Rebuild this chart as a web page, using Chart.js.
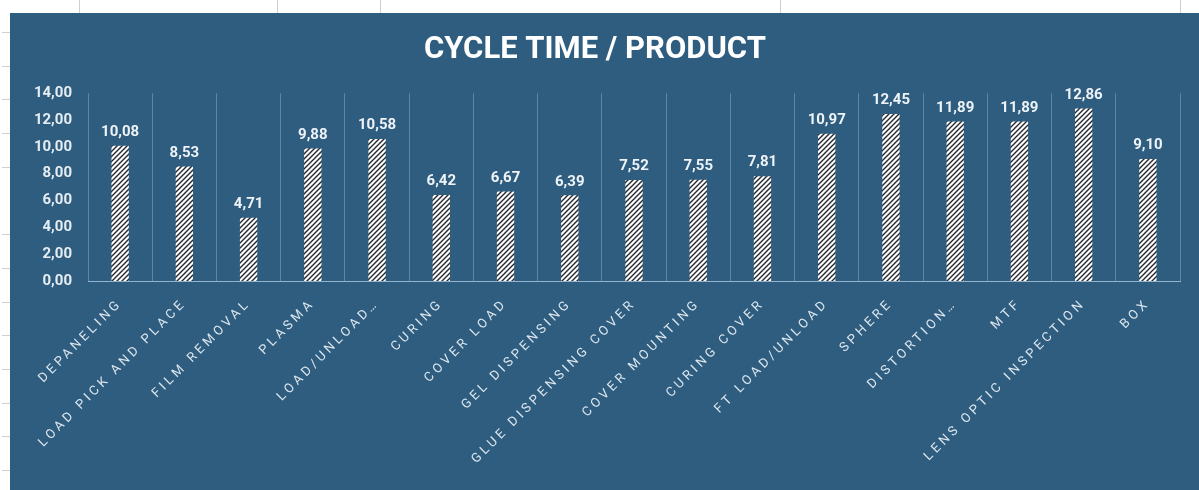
<!DOCTYPE html>
<html>
<head>
<meta charset="utf-8">
<script src="https://cdn.jsdelivr.net/npm/chart.js@4/dist/chart.umd.min.js"></script>
<style>
  html, body { margin: 0; padding: 0; background: #fff; overflow: hidden; }
  .sheet { position: relative; width: 1199px; height: 490px; }
  .cols div { position: absolute; top: 0; width: 1px; height: 13px; background: #cfcfcf; }
  .rows {
    position: absolute; left: 2px; top: 0; width: 8px; height: 490px;
    background: repeating-linear-gradient(to bottom, transparent 0, transparent 32px, #cfcfcf 32px, #cfcfcf 33px, transparent 33px, transparent 33.7px);
  }
  .panel { position: absolute; left: 10px; top: 13px; width: 1189px; height: 477px; background: #2e5d7f; }
</style>
</head>
<body>
<div class="sheet">
  <div class="cols">
    <div style="left:79px"></div><div style="left:277px"></div><div style="left:380px"></div>
    <div style="left:780px"></div><div style="left:1180px"></div>
  </div>
  <div class="rows"></div>
  <div class="panel"><canvas id="cycleChart"></canvas></div>
</div>
<script>
// Cycle time per station
const stations = [
  'DEPANELING', 'LOAD PICK AND PLACE', 'FILM REMOVAL', 'PLASMA', 'LOAD/UNLOAD…',
  'CURING', 'COVER LOAD', 'GEL DISPENSING', 'GLUE DISPENSING COVER', 'COVER MOUNTING',
  'CURING COVER', 'FT LOAD/UNLOAD', 'SPHERE', 'DISTORTION…', 'MTF',
  'LENS OPTIC INSPECTION', 'BOX'
];
const cycleTimes = [
  10.08, 8.53, 4.71, 9.88, 10.58,
  6.42, 6.67, 6.39, 7.52, 7.55,
  7.81, 10.97, 12.45, 11.89, 11.89,
  12.86, 9.10
];
const yTicks = [0, 2, 4, 6, 8, 10, 12, 14];

const fmt = v => v.toFixed(2).replace('.', ',');

// hatched fill for the bars
function hatch() {
  const c = document.createElement('canvas');
  c.width = 5; c.height = 5;
  const g = c.getContext('2d');
  g.fillStyle = '#ffffff';
  g.fillRect(0, 0, 5, 5);
  g.strokeStyle = '#23272e';
  g.lineWidth = 1.4;
  g.beginPath();
  g.moveTo(-1, 6); g.lineTo(6, -1);
  g.moveTo(-1, 1); g.lineTo(1, -1);
  g.moveTo(4, 6); g.lineTo(6, 4);
  g.stroke();
  return g.createPattern(c, 'repeat');
}

// category axis with spaced-out letters
class SpacedCategoryScale extends Chart.CategoryScale {
  static id = 'spacedCategory';
  static defaults = Chart.CategoryScale.defaults;
  drawLabels(area) {
    const ctx = this.ctx;
    ctx.save();
    ctx.letterSpacing = '3.5px';
    super.drawLabels(area);
    ctx.restore();
  }
}
Chart.register(SpacedCategoryScale);

const valueLabels = {
  id: 'valueLabels',
  afterDatasetsDraw(chart) {
    const ctx = chart.ctx;
    const meta = chart.getDatasetMeta(0);
    ctx.save();
    ctx.font = 'bold 15px Roboto';
    ctx.fillStyle = '#eef3f7';
    ctx.textAlign = 'center';
    ctx.textBaseline = 'bottom';
    meta.data.forEach((bar, i) => {
      ctx.fillText(fmt(cycleTimes[i]), bar.x, bar.y - 6);
    });
    ctx.restore();
  }
};

const ctx = document.getElementById('cycleChart').getContext('2d');
new Chart(ctx, {
  type: 'bar',
  data: {
    labels: stations,
    datasets: [{
      data: cycleTimes,
      backgroundColor: hatch(),
      borderWidth: 0,
      categoryPercentage: 1,
      barPercentage: 0.27
    }]
  },
  options: {
    responsive: true,
    maintainAspectRatio: false,
    animation: false,
    layout: { padding: { left: 0, right: 19, top: 0, bottom: 0 } },
    plugins: {
      legend: { display: false },
      tooltip: { enabled: false },
      title: {
        display: true,
        text: 'CYCLE TIME / PRODUCT',
        color: '#ffffff',
        font: { family: 'Roboto', size: 31, weight: 'bold' },
        padding: { top: 19, bottom: 24 }
      }
    },
    scales: {
      x: {
        type: 'spacedCategory',
        grid: { color: 'rgba(130,170,200,0.55)', lineWidth: 1, drawTicks: false, offset: true },
        border: { color: 'rgba(160,190,215,0.9)', width: 1 },
        ticks: {
          color: '#dce6ee',
          font: { family: 'Roboto', size: 13 },
          minRotation: 45,
          maxRotation: 45,
          autoSkip: false,
          padding: 15
        },
        afterFit: s => { s.height = 209; }
      },
      y: {
        min: 0,
        max: 14,
        afterBuildTicks: s => { s.ticks = yTicks.map(v => ({ value: v })); },
        grid: { display: false, drawTicks: false },
        border: { display: false },
        ticks: {
          color: '#e6edf2',
          font: { family: 'Roboto', size: 15, weight: 'bold' },
          padding: 16,
          callback: v => fmt(v)
        },
        afterFit: s => { s.width = 78; }
      }
    }
  },
  plugins: [valueLabels]
});
</script>
</body>
</html>
